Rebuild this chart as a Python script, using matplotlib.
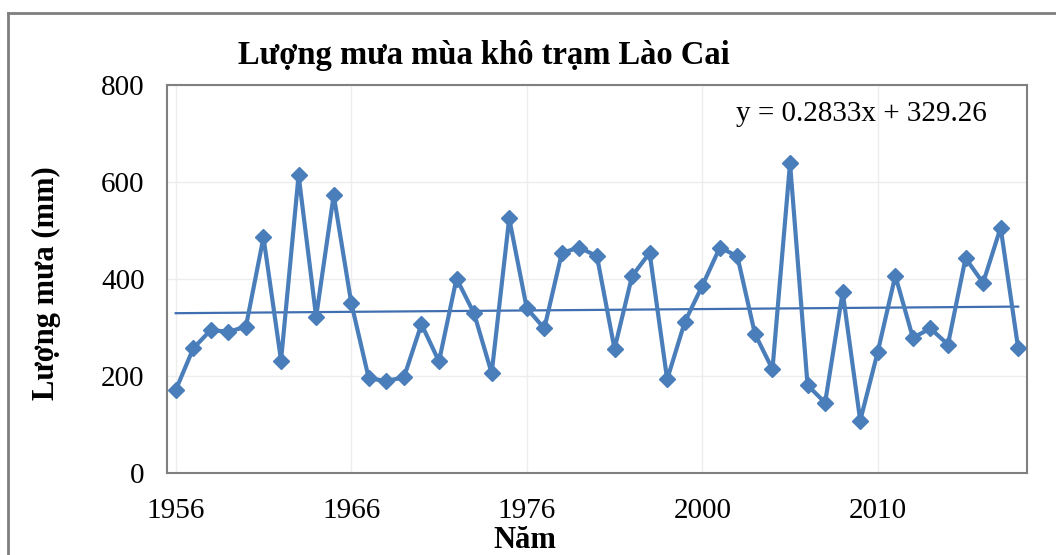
import matplotlib.pyplot as plt
from matplotlib.lines import Line2D

plt.rcParams['font.family'] = ['Liberation Serif', 'DejaVu Serif']

# luong mua mua kho (mm), 49 nam
rain = [171, 257, 295, 291, 302, 486, 232, 614, 322, 573,
        351, 195, 190, 197, 307, 230, 401, 329, 206, 525,
        340, 298, 454, 465, 447, 256, 406, 454, 193, 311,
        386, 465, 447, 287, 214, 639, 181, 145, 373, 108,
        250, 407, 279, 298, 265, 443, 392, 506, 257]
tick_pos = [0, 10, 20, 30, 40]
tick_labels = ['1956', '1966', '1976', '2000', '2010']
slope = 0.2833
intercept = 329.26

n = len(rain)
x = list(range(n))
trend = [slope * (i + 1) + intercept for i in x]

fig = plt.figure(figsize=(10.56, 5.55), dpi=100)
ax = fig.add_axes([0.1581, 0.1477, 0.8144, 0.6991])

ax.plot(x, trend, color='#3f6fb0', lw=1.6, zorder=2)
ax.plot(x, rain, color='#4a7ebb', lw=3, marker='D', markersize=8.5,
        markerfacecolor='#4a7ebb', markeredgecolor='#4a7ebb', zorder=3)

ax.set_xlim(-0.5, n - 0.5)
ax.set_ylim(0, 800)
ax.set_yticks([0, 200, 400, 600, 800])
ax.set_xticks(tick_pos)
ax.set_xticklabels(tick_labels)
ax.tick_params(length=0, labelsize=21)
ax.tick_params(axis='x', pad=18)
ax.tick_params(axis='y', pad=16)
ax.grid(True, color='#ededed', lw=1)
ax.set_axisbelow(True)
for s in ax.spines.values():
    s.set_color('#808080')
    s.set_linewidth(1.5)

ax.set_ylabel('Lượng mưa (mm)', fontsize=22, fontweight='bold')
ax.yaxis.set_label_coords(-0.123, 0.49)
fig.text(0.497, 0.027, 'Năm', fontsize=22, fontweight='bold',
         ha='center', va='center')
fig.text(0.458, 0.90, 'Lượng mưa mùa khô trạm Lào Cai', fontsize=23.5,
         fontweight='bold', ha='center', va='center')
ax.text(0.808, 0.925, 'y = 0.2833x + 329.26', transform=ax.transAxes,
        fontsize=21, ha='center', va='center')

# khung ngoai
fig.add_artist(Line2D([0.0076, 1.0], [0.9766, 0.9766], color='#7f7f7f', lw=2))
fig.add_artist(Line2D([0.0076, 0.0076], [0.0, 0.9766], color='#7f7f7f', lw=2))

fig.savefig('out.png', dpi=100)
